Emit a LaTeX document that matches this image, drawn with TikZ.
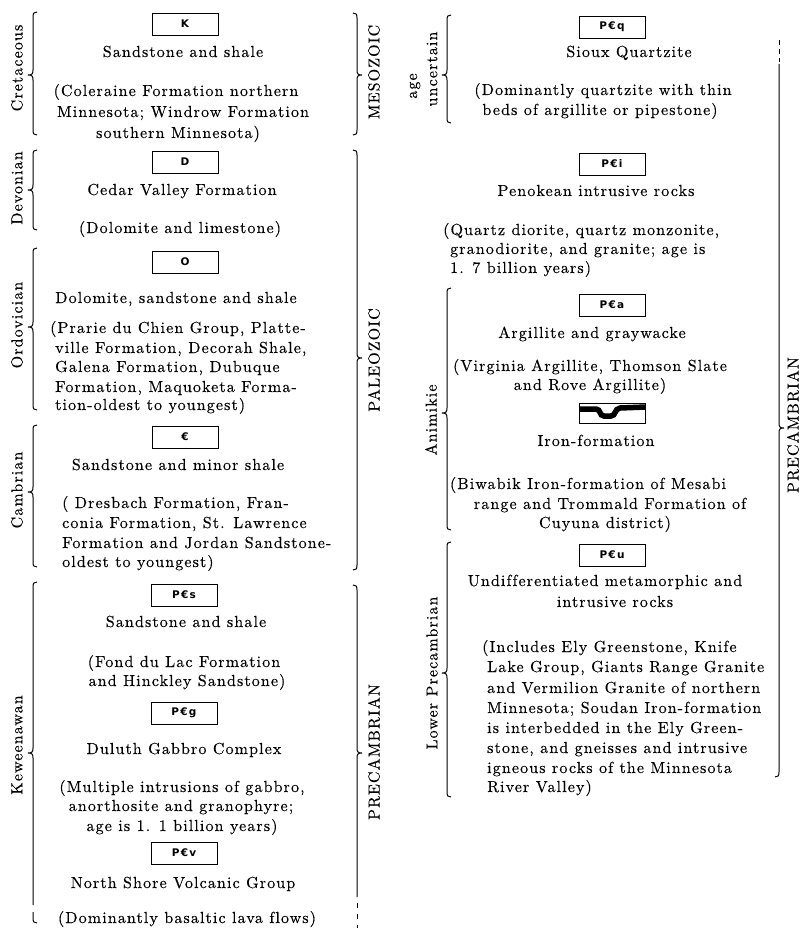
\documentclass[tikz,border=0pt]{standalone}
\usepackage{fontspec}
\newfontfamily\boxsans{DejaVu Sans Bold}[LetterSpace=12]
\newfontfamily\txtfam{lmroman10-regular.otf}[LetterSpace=7,Ligatures=NoCommon,FakeBold=0.25]
\newcommand\txtfont{\txtfam\fontsize{16}{19}\selectfont}
\newcommand\boxfont{\boxsans\fontsize{10.5}{12}\selectfont}
\newcommand{\BrL}[4]{\draw[brc] (#1+4,#2) .. controls (#1+1,#2) and (#1,#2+1) .. (#1,#2+5) -- (#1,#3-5) .. controls (#1,#3-1) and (#1-1,#3) .. (#1-5,#3) .. controls (#1-1,#3) and (#1,#3+1) .. (#1,#3+5) -- (#1,#4-5) .. controls (#1,#4-1) and (#1+1,#4) .. (#1+4,#4);}
\newcommand{\BrR}[4]{\draw[brc] (#1-4,#2) .. controls (#1-1,#2) and (#1,#2+1) .. (#1,#2+5) -- (#1,#3-5) .. controls (#1,#3-1) and (#1+1,#3) .. (#1+5,#3) .. controls (#1+1,#3) and (#1,#3+1) .. (#1,#3+5) -- (#1,#4-5) .. controls (#1,#4-1) and (#1-1,#4) .. (#1-4,#4);}
\begin{document}
\begin{tikzpicture}[x=1pt,y=-1pt,
  brc/.style={line width=1pt},
  txt/.style={font=\txtfont, inner sep=0pt, anchor=base},
  txtl/.style={txt, anchor=base west},
  vlab/.style={font=\txtfont, inner sep=0pt, rotate=90},
  symbox/.style={draw, line width=0.9pt, minimum width=66pt, minimum height=22pt, inner sep=0pt, font=\boxfont}]
\useasboundingbox (0,0) rectangle (805,928);

% ---------- left column: boxes ----------
\node[symbox] (K) at (185,24) {K};
\node[symbox] (D) at (185,162) {D};
\node[symbox] (O) at (185,262) {O};
\node[symbox] (C) at (185,437) {€};
\node[symbox] (Ps) at (184,595) {P€s};
\node[symbox] (Pg) at (184,713) {P€g};
\node[symbox] (Pv) at (184,853) {P€v};

% ---------- left column: text ----------
\node[txt] (t1) at (183,57) {Sandstone and shale};
\node[txt] (t2) at (176,96) {(Coleraine Formation northern};
\node[txt] (t3) at (183,117) {Minnesota; Windrow Formation};
\node[txt] (t4) at (178,138) {southern Minnesota)};
\node[txt] (t5) at (182,195) {Cedar Valley Formation};
\node[txt] (t6) at (180,233) {(Dolomite and limestone)};
\node[txt] (t7) at (176,303) {Dolomite, sandstone and shale};
\node[txtl] (o1) at (50,333) {(Prarie du Chien Group, Platte-};
\node[txtl] (o2) at (55,353) {ville Formation, Decorah Shale,};
\node[txtl] (o3) at (55,372) {Galena Formation, Dubuque};
\node[txtl] (o4) at (55,392) {Formation, Maquoketa Forma-};
\node[txtl] (o5) at (55,410) {tion-oldest to youngest)};
\node[txt] (t8) at (178,470) {Sandstone and minor shale};
\node[txtl] (c1) at (62,508) {( Dresbach Formation, Fran-};
\node[txtl] (c2) at (62,528) {conia Formation, St. Lawrence};
\node[txtl] (c3) at (62,548) {Formation and Jordan Sandstone-};
\node[txtl] (c4) at (62,567) {oldest to youngest)};
\node[txt] (t9) at (186,627) {Sandstone and shale};
\node[txt] (t10) at (184,667) {(Fond du Lac Formation};
\node[txt] (t11) at (187,686) {and Hinckley Sandstone)};
\node[txt] (t12) at (184,754) {Duluth Gabbro Complex};
\node[txt] (t13) at (182,792) {(Multiple intrusions of gabbro,};
\node[txt] (t14) at (181,811) {anorthosite and granophyre;};
\node[txt] (t15) at (182,831) {age is 1. 1 billion years)};
\node[txt] (t16) at (183,888) {North Shore Volcanic Group};
\node[txt] (t17) at (187,923) {(Dominantly basaltic lava flows)};

% ---------- left column: vertical labels ----------
\node[vlab] (lCre) at (17,68) {Cretaceous};
\node[vlab] (lDev) at (17,188) {Devonian};
\node[vlab] (lOrd) at (17,325) {Ordovician};
\node[vlab] (lCam) at (17,490) {Cambrian};
\node[vlab] (lKew) at (17,745) {Keweenawan};
\node[vlab] (lMes) at (374,72) {MESOZOIC};
\node[vlab] (lPal) at (374,360) {PALEOZOIC};
\node[vlab] (lPre) at (374,752) {PRECAMBRIAN};

% ---------- left column: braces ----------
\BrL{33}{12}{75}{135}
\BrL{33}{150}{190}{230}
\BrL{33}{248}{327}{410}
\BrL{33}{425}{492}{567}
\draw[brc] (37,582) .. controls (34,582) and (33,583) .. (33,587) -- (33,748) .. controls (33,752) and (32,753) .. (28,753) .. controls (32,753) and (33,754) .. (33,758) -- (33,905);
\draw[brc] (33,912) -- (33,918) .. controls (33,922) and (34,923) .. (37,923);
\BrR{357}{13}{75}{135}
\BrR{357}{150}{358}{570}
\draw[brc] (353,585) .. controls (356,585) and (357,586) .. (357,590) -- (357,748) .. controls (357,752) and (358,753) .. (362,753) .. controls (358,753) and (357,754) .. (357,758) -- (357,897);
\draw[brc, dash pattern=on 5pt off 6pt] (357,903) -- (357,928);

% ---------- right column: boxes ----------
\node[symbox] (Pq) at (612,27) {P€q};
\node[symbox] (Pi) at (612,164) {P€i};
\node[symbox] (Pa) at (612,305) {P€a};
\node[symbox, minimum height=20pt] (iron) at (612,413) {};
\begin{scope}
\clip (iron.north west) rectangle (iron.south east);
\draw[line width=5.5pt] (579,409) -- (596,409) .. controls (601,409) and (599,416) .. (604,416) -- (611,416) .. controls (616,416) and (614,409) .. (620,408) -- (646,407);
\end{scope}
\node[symbox] (Pu) at (612,555) {P€u};

% ---------- right column: text ----------
\node[txt] (r1) at (629,57) {Sioux Quartzite};
\node[txt] (r2) at (603,95) {(Dominantly quartzite with thin};
\node[txt] (r3) at (600,115) {beds of argillite or pipestone)};
\node[txt] (r4) at (596,196) {Penokean intrusive rocks};
\node[txtl] (q1) at (443,235) {(Quartz diorite, quartz monzonite,};
\node[txtl] (q2) at (450,254) {granodiorite, and granite; age is};
\node[txtl] (q3) at (450,273) {1. 7 billion years)};
\node[txt] (r5) at (592,338) {Argillite and graywacke};
\node[txt] (r6) at (590,371) {(Virginia Argillite, Thomson Slate};
\node[txt] (r7) at (590,390) {and Rove Argillite)};
\node[txt] (r8) at (596,446) {Iron-formation};
\node[txt] (r9) at (588,489) {(Biwabik Iron-formation of Mesabi};
\node[txt] (r10) at (610,509) {range and Trommald Formation of};
\node[txt] (r11) at (605,528) {Cuyuna district)};
\node[txt] (r12) at (605,586) {Undifferentiated metamorphic and};
\node[txt] (r13) at (615,607) {intrusive rocks};
\node[txtl] (u1) at (482,652) {(Includes Ely Greenstone, Knife};
\node[txtl] (u2) at (487,672) {Lake Group, Giants Range Granite};
\node[txtl] (u3) at (487,693) {and Vermilion Granite of northern};
\node[txtl] (u4) at (487,713) {Minnesota; Soudan Iron-formation};
\node[txtl] (u5) at (487,733) {is interbedded in the Ely Green-};
\node[txtl] (u6) at (487,753) {stone, and gneisses and intrusive};
\node[txtl] (u7) at (487,773) {igneous rocks of the Minnesota};
\node[txtl] (u8) at (487,792) {River Valley)};

% ---------- right column: vertical labels ----------
\node[vlab] (lAge) at (415,86) {age};
\node[vlab] (lUnc) at (432,69) {uncertain};
\node[vlab] (lAni) at (431,420) {Animikie};
\node[vlab] (lLow) at (432,673) {Lower Precambrian};
\node[vlab] (lPre2) at (793,425) {PRECAMBRIAN};

% ---------- right column: braces ----------
\BrL{447}{15}{75}{123}
\BrL{447}{288}{413}{530}
\BrL{447}{542}{673}{797}
\draw[brc, dash pattern=on 5pt off 4pt] (779,40) -- (779,62);
\draw[brc] (779,64) -- (779,423) .. controls (779,427) and (780,428) .. (784,428) .. controls (780,428) and (779,429) .. (779,433) -- (779,772) .. controls (779,776) and (778,777) .. (775,777);
\end{tikzpicture}
\end{document}
